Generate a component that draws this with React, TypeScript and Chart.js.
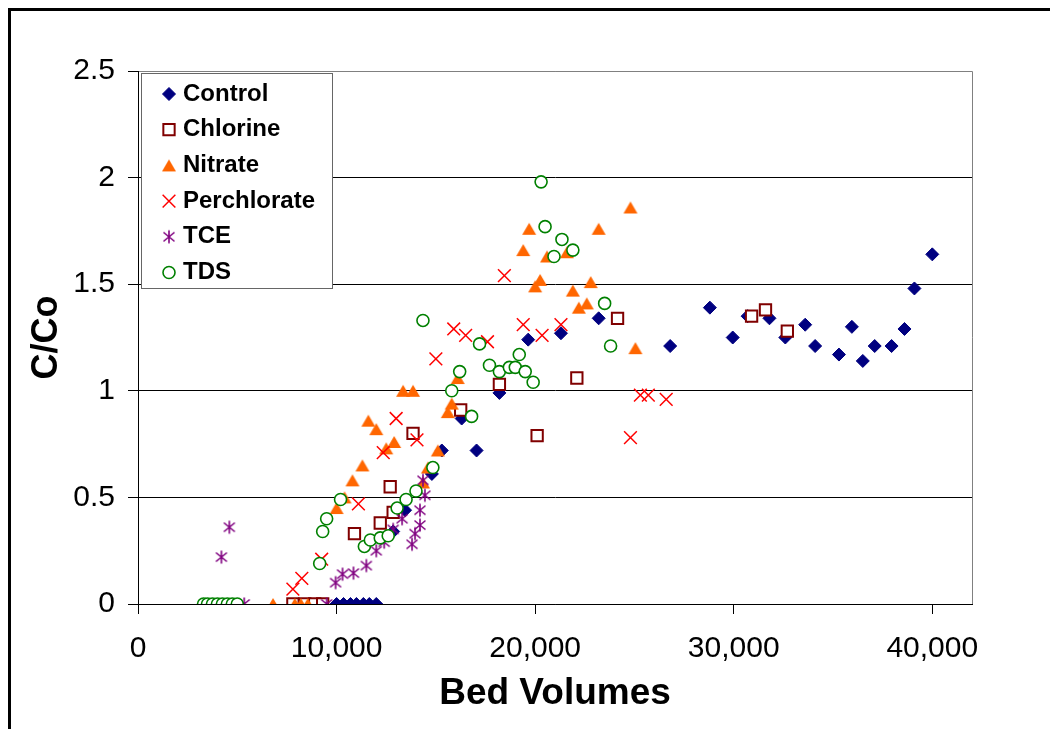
import React, { useEffect, useRef } from 'react';
import { Chart, registerables } from 'chart.js';
import { drawPoint } from 'chart.js/helpers';

Chart.register(...registerables);

const FONT = '"Liberation Sans", Arial, Helvetica, sans-serif';

const seriesNames = ['Control', 'Chlorine', 'Nitrate', 'Perchlorate', 'TCE', 'TDS'];

const controlBV = [10000, 10350, 10700, 11000, 11350, 11650, 12000, 12850, 13450, 14800, 15300, 16300, 17050, 18200, 19650, 21300, 23200, 26800, 28800, 29950, 30700, 31800, 32600, 33600, 34100, 35300, 35950, 36500, 37100, 37950, 38600, 39100, 40000];
const controlC = [0, 0, 0, 0, 0, 0, 0, 0.34, 0.44, 0.61, 0.72, 0.87, 0.72, 0.99, 1.24, 1.27, 1.34, 1.21, 1.39, 1.25, 1.35, 1.34, 1.25, 1.31, 1.21, 1.17, 1.30, 1.14, 1.21, 1.21, 1.29, 1.48, 1.64];

const chlorineBV = [7800, 8400, 8900, 9300, 10900, 12200, 12850, 12700, 13850, 16250, 18200, 20100, 22100, 24150, 30900, 31600, 32700];
const chlorineC = [0, 0, 0, 0, 0.33, 0.38, 0.43, 0.55, 0.80, 0.91, 1.03, 0.79, 1.06, 1.34, 1.35, 1.38, 1.28];

const nitrateBV = [3400, 6800, 7900, 8200, 8550, 10000, 10400, 10800, 11300, 11600, 12000, 12500, 12900, 13350, 13850, 14350, 14600, 15100, 15600, 15800, 16100, 19400, 19700, 20000, 20250, 20600, 21600, 21900, 22200, 22600, 22800, 23200, 24800, 25050];
const nitrateC = [0, 0, 0, 0, 0, 0.45, 0.50, 0.58, 0.65, 0.86, 0.82, 0.73, 0.76, 1.00, 1.00, 0.57, 0.64, 0.72, 0.90, 0.94, 1.06, 1.66, 1.76, 1.49, 1.52, 1.63, 1.65, 1.47, 1.39, 1.41, 1.51, 1.76, 1.86, 1.20];

const perchlorateBV = [7800, 8250, 9250, 11100, 12350, 13000, 14050, 15000, 15900, 16500, 17600, 18450, 19400, 20350, 21300, 24800, 25300, 25700, 26600];
const perchlorateC = [0.07, 0.12, 0.21, 0.47, 0.71, 0.87, 0.77, 1.15, 1.29, 1.26, 1.23, 1.54, 1.31, 1.26, 1.31, 0.78, 0.98, 0.98, 0.96];

const tceBV = [4200, 4600, 5350, 9500, 9950, 10300, 10850, 11500, 12000, 12400, 12850, 13300, 13800, 13950, 14200, 14200, 14450, 14350];
const tceC = [0.22, 0.36, 0, 0, 0.10, 0.14, 0.145, 0.18, 0.25, 0.29, 0.35, 0.40, 0.28, 0.33, 0.37, 0.44, 0.51, 0.58];

const tdsBV = [3300, 3500, 3750, 4000, 4250, 4500, 4750, 5000, 9150, 9300, 9500, 10200, 11400, 11700, 12200, 12600, 13050, 13500, 14000, 14850, 14350, 15800, 16200, 16800, 17200, 17700, 18200, 18700, 19000, 19200, 19500, 19900, 20300, 20500, 20950, 21350, 21900, 23500, 23800];
const tdsC = [0, 0, 0, 0, 0, 0, 0, 0, 0.19, 0.34, 0.40, 0.49, 0.27, 0.30, 0.31, 0.32, 0.45, 0.49, 0.53, 0.64, 1.33, 1.00, 1.09, 0.88, 1.22, 1.12, 1.09, 1.11, 1.11, 1.17, 1.09, 1.04, 1.98, 1.77, 1.63, 1.71, 1.66, 1.41, 1.21];

const xTickValues = [0, 10000, 20000, 30000, 40000];
const yTickValues = [0, 0.5, 1, 1.5, 2, 2.5];

const zip = (xs: number[], ys: number[]) => xs.map((x, i) => ({ x, y: ys[i] }));

function makeTriangle(color: string) {
  const c = document.createElement('canvas');
  c.width = 16; c.height = 16;
  const g = c.getContext('2d')!;
  g.fillStyle = color;
  g.beginPath();
  g.moveTo(8, 2);
  g.lineTo(15, 14);
  g.lineTo(1, 14);
  g.closePath();
  g.fill();
  return c;
}

function makeAsterisk(color: string) {
  const c = document.createElement('canvas');
  c.width = 16; c.height = 16;
  const g = c.getContext('2d')!;
  g.strokeStyle = color;
  g.lineWidth = 1.6;
  g.beginPath();
  g.moveTo(8, 1.5); g.lineTo(8, 14.5);
  g.moveTo(2.5, 3.5); g.lineTo(13.5, 12.5);
  g.moveTo(13.5, 3.5); g.lineTo(2.5, 12.5);
  g.stroke();
  return c;
}

const legendBox = {
  id: 'legendBox',
  afterDraw(chart: any) {
    const { ctx, chartArea } = chart;
    const x0 = chartArea.left + 3;
    const y0 = chartArea.top + 2;
    const w = 192, h = 216;
    ctx.save();
    ctx.fillStyle = '#ffffff';
    ctx.fillRect(x0, y0, w, h);
    ctx.strokeStyle = '#666666';
    ctx.lineWidth = 1;
    ctx.strokeRect(x0 + 0.5, y0 + 0.5, w - 1, h - 1);
    chart.data.datasets.forEach((ds: any, i: number) => {
      const cy = y0 + 21 + i * 35.7;
      ctx.save();
      ctx.fillStyle = ds.backgroundColor;
      ctx.strokeStyle = ds.borderColor;
      ctx.lineWidth = ds.borderWidth;
      drawPoint(ctx, { pointStyle: ds.pointStyle, radius: ds.pointRadius, borderWidth: ds.borderWidth, rotation: 0 } as any, x0 + 28, cy);
      ctx.restore();
      ctx.fillStyle = '#000';
      ctx.font = `bold 24px ${FONT}`;
      ctx.textBaseline = 'middle';
      ctx.textAlign = 'left';
      ctx.fillText(ds.label, x0 + 42, cy);
    });
    ctx.restore();
  },
};

const plotBorder = {
  id: 'plotBorder',
  beforeDatasetsDraw(chart: any) {
    const { ctx, chartArea: a } = chart;
    ctx.save();
    ctx.strokeStyle = '#808080';
    ctx.lineWidth = 1;
    ctx.beginPath();
    ctx.moveTo(a.left + 1, a.top + 0.5);
    ctx.lineTo(a.right + 0.5, a.top + 0.5);
    ctx.lineTo(a.right + 0.5, a.bottom);
    ctx.stroke();
    ctx.restore();
  },
};

export default function App() {
  const ref = useRef<HTMLCanvasElement | null>(null);

  useEffect(() => {
    if (!ref.current) return;
    const tri = makeTriangle('#FF6600');
    const ast = makeAsterisk('#800080');

    const chart = new Chart(ref.current, {
      type: 'scatter',
      data: {
        datasets: [
          { label: seriesNames[0], data: zip(controlBV, controlC), pointStyle: 'rectRot', pointRadius: 6.5, backgroundColor: '#000080', borderColor: '#000080', borderWidth: 1, order: 6 },
          { label: seriesNames[1], data: zip(chlorineBV, chlorineC), pointStyle: 'rect', pointRadius: 8, backgroundColor: '#ffffff', borderColor: '#800000', borderWidth: 2, order: 5 },
          { label: seriesNames[2], data: zip(nitrateBV, nitrateC), pointStyle: tri, pointRadius: 8, backgroundColor: '#FF6600', borderColor: '#FF6600', borderWidth: 0, order: 4 },
          { label: seriesNames[3], data: zip(perchlorateBV, perchlorateC), pointStyle: 'crossRot', pointRadius: 9, backgroundColor: '#FF0000', borderColor: '#FF0000', borderWidth: 1.5, order: 3 },
          { label: seriesNames[4], data: zip(tceBV, tceC), pointStyle: ast, pointRadius: 8, backgroundColor: '#800080', borderColor: '#800080', borderWidth: 0, order: 2 },
          { label: seriesNames[5], data: zip(tdsBV, tdsC), pointStyle: 'circle', pointRadius: 6, backgroundColor: '#ffffff', borderColor: '#008000', borderWidth: 1.6, order: 1 },
        ] as any,
      },
      options: {
        animation: false,
        responsive: false,
        maintainAspectRatio: false,
        layout: { padding: { left: 0, top: 60, right: 78, bottom: 0 } },
        plugins: {
          legend: { display: false },
          tooltip: { enabled: false },
        },
        scales: {
          x: {
            type: 'linear',
            min: 0,
            max: 42000,
            afterBuildTicks: (s: any) => { s.ticks = xTickValues.map((v) => ({ value: v })); },
            afterFit: (s: any) => { s.height = 125; },
            ticks: {
              color: '#000',
              font: { family: FONT, size: 30 },
              padding: 17,
              maxRotation: 0,
              callback: (v: any) => Number(v).toLocaleString('en-US'),
            },
            grid: { drawOnChartArea: false, drawTicks: true, tickLength: 10, color: '#000', tickColor: '#000' },
            border: { display: true, color: '#000', width: 1 },
            title: {
              display: true,
              text: 'Bed Volumes',
              color: '#000',
              font: { family: FONT, size: 37, weight: 'bold' },
              padding: { top: 0, bottom: 13 },
            },
          },
          y: {
            type: 'linear',
            min: 0,
            max: 2.5,
            afterBuildTicks: (s: any) => { s.ticks = yTickValues.map((v) => ({ value: v })); },
            afterFit: (s: any) => { s.width = 127; },
            ticks: {
              color: '#000',
              font: { family: FONT, size: 30 },
              padding: 13,
              callback: (v: any) => String(v),
            },
            grid: {
              drawOnChartArea: true,
              drawTicks: true,
              tickLength: 10,
              color: (c: any) => (c.tick && c.tick.value === 2.5 ? '#808080' : '#000000'),
              tickColor: '#000',
            },
            border: { display: true, color: '#000', width: 1 },
            title: {
              display: true,
              text: 'C/Co',
              color: '#000',
              font: { family: FONT, size: 36, weight: 'bold' },
              padding: { top: 14, bottom: 0 },
            },
          },
        },
      } as any,
      plugins: [plotBorder, legendBox],
    });
    return () => chart.destroy();
  }, []);

  return (
    <div
      style={{
        position: 'fixed',
        left: 8,
        top: 8,
        width: 1042,
        height: 721,
        boxSizing: 'border-box',
        borderTop: '3px solid #000',
        borderLeft: '3px solid #000',
        background: '#fff',
      }}
    >
      <canvas ref={ref} width={1039} height={718} style={{ display: 'block', width: 1039, height: 718 }} />
    </div>
  );
}
